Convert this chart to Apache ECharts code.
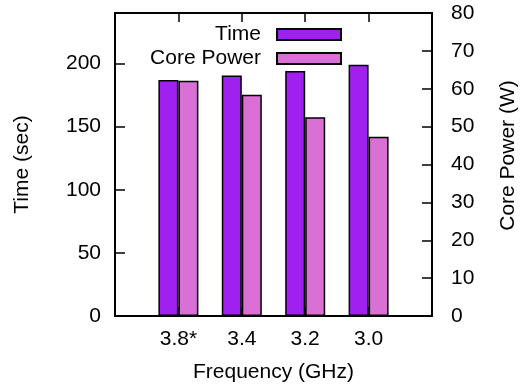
<!DOCTYPE html>
<html>
<head>
<meta charset="utf-8">
<script src="https://cdn.jsdelivr.net/npm/echarts@6/dist/echarts.min.js"></script>
<style>
  html, body { margin: 0; padding: 0; background: #fff; }
  #chart { width: 530px; height: 390px; }
</style>
</head>
<body>
<div id="chart"></div>
<script>
// Run time and core power at each CPU frequency setting
const frequencies = ['3.8*', '3.4', '3.2', '3.0'];
const timeSec = [187, 190.5, 194, 199];
const corePowerW = [62.1, 58.4, 52.5, 47.3];

const timeTicks = [0, 50, 100, 150, 200];
const powerTicks = [0, 10, 20, 30, 40, 50, 60, 70, 80];

// Clusters sit at integer positions 0..n-1; the x range runs one slot wider on each side
const atSlot = arr => arr.map((v, i) => [i, v]);
const slotLabel = v => (Number.isInteger(v) && frequencies[v] !== undefined ? frequencies[v] : '');

const FONT = 'Liberation Sans';
const txt = { color: '#000', fontFamily: FONT, fontSize: 21 };
const frameLine = { show: true, onZero: false, lineStyle: { color: '#000', width: 2 } };
const inTick = len => ({ show: true, inside: true, length: len, lineStyle: { color: '#000', width: 1.5 } });

const chart = echarts.init(document.getElementById('chart'), null, { renderer: 'canvas' });
chart.setOption({
  animation: false,
  backgroundColor: '#fff',
  textStyle: { fontFamily: FONT },
  grid: { left: 115, right: 98, top: 13, bottom: 74 },
  legend: {
    orient: 'vertical',
    align: 'right',
    right: 183,
    top: 19,
    itemWidth: 64,
    itemHeight: 11,
    itemGap: 3,
    selectedMode: false,
    icon: 'rect',
    textStyle: Object.assign({}, txt, { lineHeight: 20, padding: [0, 11, 0, 0] }),
    data: ['Time', 'Core Power']
  },
  xAxis: [
    {
      type: 'value',
      position: 'bottom',
      min: -1,
      max: frequencies.length,
      interval: 1,
      name: 'Frequency (GHz)',
      nameLocation: 'middle',
      nameGap: 46,
      nameTextStyle: txt,
      axisLine: frameLine,
      axisTick: inTick(9),
      axisLabel: Object.assign({}, txt, { margin: 13, formatter: slotLabel }),
      splitLine: { show: false }
    },
    {
      type: 'value',
      position: 'top',
      min: -1,
      max: frequencies.length,
      interval: 1,
      axisLine: frameLine,
      axisTick: inTick(9),
      axisLabel: { show: false },
      splitLine: { show: false }
    }
  ],
  yAxis: [
    {
      type: 'value',
      position: 'left',
      min: 0,
      max: 240,
      interval: 50,
      name: 'Time (sec)',
      nameLocation: 'middle',
      nameGap: 82,
      nameRotate: 90,
      nameTextStyle: txt,
      axisLine: frameLine,
      axisTick: inTick(10),
      axisLabel: Object.assign({}, txt, {
        margin: 14,
        formatter: v => (timeTicks.indexOf(v) >= 0 ? String(v) : '')
      }),
      splitLine: { show: false }
    },
    {
      type: 'value',
      position: 'right',
      min: 0,
      max: 80,
      interval: 10,
      name: 'Core Power (W)',
      nameLocation: 'middle',
      nameGap: 66,
      nameRotate: 90,
      nameTextStyle: Object.assign({}, txt, { padding: [0, 0, 0, 18] }),
      axisLine: frameLine,
      axisTick: inTick(10),
      axisLabel: Object.assign({}, txt, {
        margin: 19,
        formatter: v => (powerTicks.indexOf(v) >= 0 ? String(v) : '')
      }),
      splitLine: { show: false }
    }
  ],
  series: [
    {
      name: 'Time',
      type: 'bar',
      xAxisIndex: 0,
      yAxisIndex: 0,
      data: atSlot(timeSec),
      barWidth: 20,
      barGap: '0%',
      itemStyle: { color: '#a020f0', borderColor: '#000', borderWidth: 1.5 }
    },
    {
      name: 'Core Power',
      type: 'bar',
      xAxisIndex: 0,
      yAxisIndex: 1,
      data: atSlot(corePowerW),
      barWidth: 20,
      barGap: '0%',
      itemStyle: { color: '#da70d6', borderColor: '#000', borderWidth: 1.5 }
    }
  ]
});
</script>
</body>
</html>
